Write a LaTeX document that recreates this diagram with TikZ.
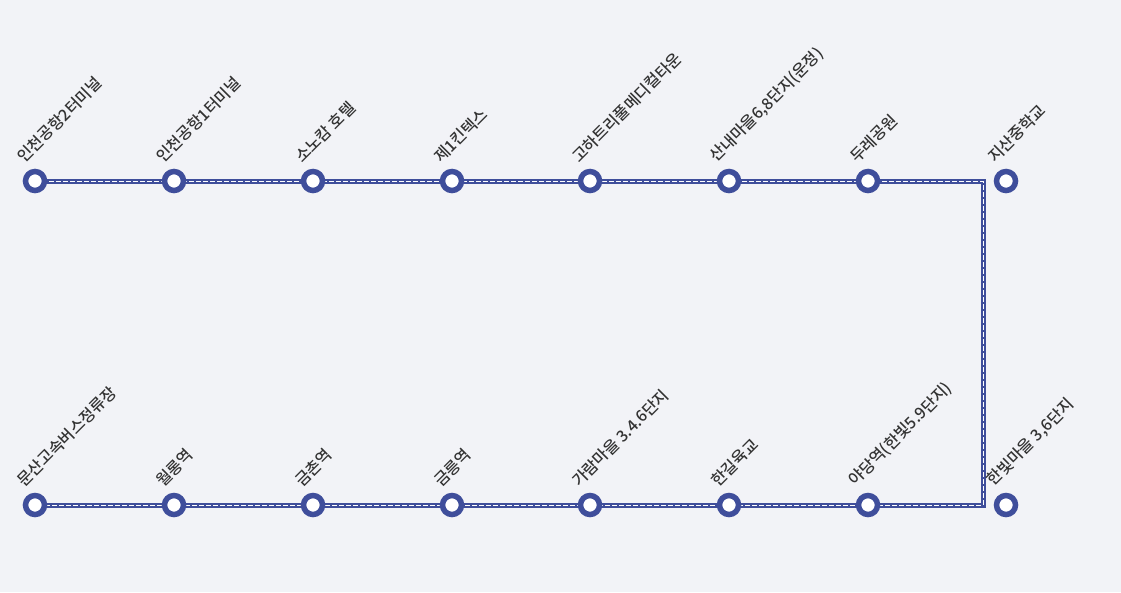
\documentclass[tikz,border=0pt]{standalone}
\usepackage{fontspec}
\newfontfamily\kr{Noto Sans CJK KR Medium}
\definecolor{ln}{HTML}{3F4E9B}
\definecolor{bg}{HTML}{F2F3F7}
\definecolor{tx}{HTML}{333333}
\begin{document}
\begin{tikzpicture}[x=1pt,y=-1pt,
  stn/.style={circle,draw=ln,line width=5.5pt,fill=white,minimum size=19pt,inner sep=0pt},
  lbl/.style={rotate=45,anchor=south west,inner sep=0pt,font=\kr\fontsize{16}{18}\selectfont,text=tx},
  track/.style={draw=ln,line width=5pt},
  trackc/.style={draw=white,line width=1pt,dash pattern=on 5pt off 2pt}]
\fill[bg] (0,0) rectangle (1121,592);
\useasboundingbox (0,0) rectangle (1121,592);
\coordinate (c1) at (983,181);
\coordinate (c2) at (983,505);
\foreach \i/\x in {1/35,2/174,3/313,4/452,5/590,6/729,7/868,8/1006}{
  \coordinate (a\i) at (\x,181);
  \coordinate (b\i) at (\x,505);
}
\foreach \s in {track,trackc}{
  \path[\s] (a1) -- (c1) -- (c2) -- (b1);
}
\foreach \i/\t in {1/{인천공항2터미널},2/{인천공항1터미널},3/{소노캄 호텔},4/{제1킨텍스},5/{고하트리풀메디컬타운},6/{산내마을6,8단지(운정)},7/{두레공원},8/{지산중학교}}{
  \node[stn] (sa\i) at (a\i) {};
  \node[lbl] (la\i) at ([xshift=-10pt,yshift=16pt]a\i) {\t};
}
\foreach \i/\t in {1/{문산고속버스정류장},2/{월롱역},3/{금촌역},4/{금릉역},5/{가람마을 3.4.6단지},6/{한길육교},7/{야당역(한빛5.9단지)},8/{한빛마을 3,6단지}}{
  \node[stn] (sb\i) at (b\i) {};
  \node[lbl] (lb\i) at ([xshift=-10pt,yshift=16pt]b\i) {\t};
}
\end{tikzpicture}
\end{document}
